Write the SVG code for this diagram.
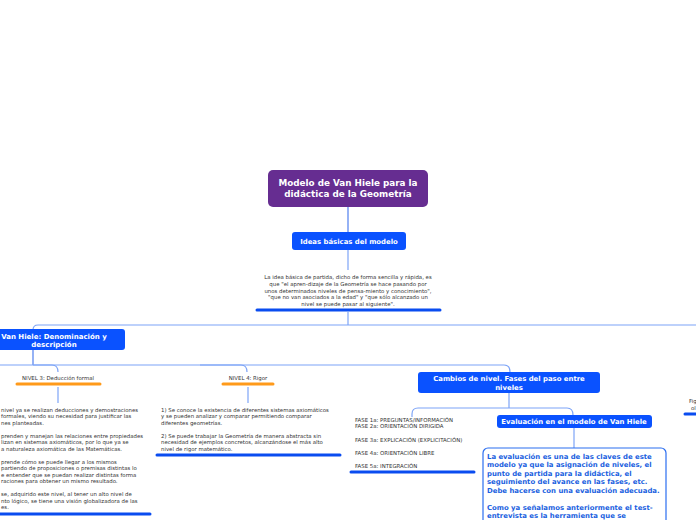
<svg xmlns="http://www.w3.org/2000/svg" width="696" height="520" viewBox="0 0 696 520">
<style>
.c{fill:none;stroke:#7da4f7;stroke-width:1.2}
.cd{fill:none;stroke:#4f7fef;stroke-width:1.2}
.nb{fill:#0a52ff}
.nt{font-family:"DejaVu Sans",Verdana,sans-serif;font-weight:bold;fill:#fff;text-anchor:middle}
.t{font-family:"DejaVu Sans",Verdana,sans-serif;font-size:5.4px;fill:#333}
.tm{text-anchor:middle}
.ub{stroke:#0a4cf0;stroke-width:3;stroke-linecap:round}
.uo{stroke:#ff9a1a;stroke-width:3;stroke-linecap:round}
.bt{font-family:"DejaVu Sans",Verdana,sans-serif;font-weight:bold;font-size:6.9px;fill:#1a5fe0}
</style>
<rect width="696" height="520" fill="#fff"/>
<g id="connectors">
<path class="cd" d="M348,207V232"/>
<path class="c" d="M348,250V270"/>
<path class="c" d="M348,312V325"/>
<path class="c" d="M348,325H38Q33,325 33,330"/>
<path class="c" d="M348,325H696"/>
<path class="cd" d="M33,350V365"/>
<path class="c" d="M0,365H504Q510,365 510,372"/>
<path class="c" d="M33,365H52Q58,365 58,372"/>
<path class="c" d="M200,365H241Q247,365 247,372"/>
<path class="c" d="M58,387V403"/>
<path class="c" d="M248,387V403"/>
<path class="c" d="M509,393V408"/>
<path class="c" d="M509,408H418Q412,408 412,414V417"/>
<path class="c" d="M509,408H567Q573,408 573,415"/>
<path class="c" d="M574,428V448"/>
</g>
<g id="root">
<rect x="268" y="170" width="160" height="37" rx="5" fill="#662d91"/>
<text class="nt" font-size="8.8" x="348" y="186">Modelo de Van Hiele para la</text>
<text class="nt" font-size="8.8" x="348" y="197">didáctica de la Geometría</text>
</g>
<g id="ideas">
<rect class="nb" x="292" y="232" width="114" height="18" rx="3"/>
<text class="nt" font-size="6.9" x="349" y="244">Ideas básicas del modelo</text>
</g>
<g id="ideas-text">
<text class="t tm" x="348" y="279">La idea básica de partida, dicho de forma sencilla y rápida, es</text>
<text class="t tm" x="348" y="286">que "el apren-dizaje de la Geometría se hace pasando por</text>
<text class="t tm" x="348" y="292.5">unos determinados niveles de pensa-miento y conocimiento",</text>
<text class="t tm" x="348" y="299">"que no van asociados a la edad" y "que sólo alcanzado un</text>
<text class="t tm" x="348" y="305.5">nivel se puede pasar al siguiente".</text>
<line class="ub" x1="257" y1="310" x2="440" y2="310"/>
</g>
<g id="vanhiele">
<rect class="nb" x="-20" y="329" width="145" height="21" rx="3"/>
<text class="nt" font-size="7" x="54" y="338.5">Van Hiele: Denominación y</text>
<text class="nt" font-size="7" x="54" y="347">descripción</text>
</g>
<g id="nivel3">
<text class="t tm" x="58" y="380">NIVEL 3: Deducción formal</text>
<line class="uo" x1="17" y1="384" x2="100" y2="384"/>
</g>
<g id="nivel3-text">
<text class="t" x="1" y="411.5">nivel ya se realizan deducciones y demostraciones</text>
<text class="t" x="1" y="418">formales, viendo su necesidad para justificar las</text>
<text class="t" x="1" y="424.5">nes planteadas.</text>
<text class="t" x="1" y="437.5">prenden y manejan las relaciones entre propiedades</text>
<text class="t" x="1" y="444">lizan en sistemas axiomáticos, por lo que ya se</text>
<text class="t" x="1" y="450.5">a naturaleza axiomática de las Matemáticas.</text>
<text class="t" x="1" y="463.5">prende cómo se puede llegar a los mismos</text>
<text class="t" x="1" y="470">partiendo de proposiciones o premisas distintas lo</text>
<text class="t" x="1" y="476.5">e entender que se puedan realizar distintas forma</text>
<text class="t" x="1" y="483">raciones para obtener un mismo resultado.</text>
<text class="t" x="1" y="496">se, adquirido este nivel, al tener un alto nivel de</text>
<text class="t" x="1" y="502.5">nto lógico, se tiene una visión globalizadora de las</text>
<text class="t" x="1" y="509">es.</text>
<line class="ub" x1="0" y1="514" x2="150" y2="514"/>
</g>
<g id="nivel4">
<text class="t tm" x="248" y="380">NIVEL 4: Rigor</text>
<line class="uo" x1="223" y1="384" x2="273" y2="384"/>
</g>
<g id="nivel4-text">
<text class="t" x="161" y="411.5">1) Se conoce la existencia de diferentes sistemas axiomáticos</text>
<text class="t" x="161" y="418">y se pueden analizar y comparar permitiendo comparar</text>
<text class="t" x="161" y="424.5">diferentes geometrías.</text>
<text class="t" x="161" y="437.5">2) Se puede trabajar la Geometría de manera abstracta sin</text>
<text class="t" x="161" y="444">necesidad de ejemplos concretos, alcanzándose el más alto</text>
<text class="t" x="161" y="450.5">nivel de rigor matemático.</text>
<line class="ub" x1="157" y1="455" x2="340" y2="455"/>
</g>
<g id="cambios">
<rect class="nb" x="418" y="372" width="182" height="21" rx="3"/>
<text class="nt" font-size="6.9" x="509" y="381">Cambios de nivel. Fases del paso entre</text>
<text class="nt" font-size="6.9" x="509" y="389.5">niveles</text>
</g>
<g id="fases">
<text class="t" x="355" y="421.5">FASE 1a: PREGUNTAS/INFORMACIÓN</text>
<text class="t" x="355" y="428">FASE 2a: ORIENTACIÓN DIRIGIDA</text>
<text class="t" x="355" y="441.5">FASE 3a: EXPLICACIÓN (EXPLICITACIÓN)</text>
<text class="t" x="355" y="454.5">FASE 4a: ORIENTACIÓN LIBRE</text>
<text class="t" x="355" y="467.5">FASE 5a: INTEGRACIÓN</text>
<line class="ub" x1="351" y1="472" x2="474" y2="472"/>
</g>
<g id="evaluacion">
<rect class="nb" x="497" y="415" width="155" height="13" rx="3"/>
<text class="nt" font-size="6.9" x="574" y="424">Evaluación en el modelo de Van Hiele</text>
</g>
<g id="evaluacion-text">
<rect x="483" y="448" width="183" height="80" rx="5" fill="#fff" stroke="#2b6ef0" stroke-width="1.2"/>
<text class="bt" x="487" y="458.5">La evaluación es una de las claves de este</text>
<text class="bt" x="487" y="467">modelo ya que la asignación de niveles, el</text>
<text class="bt" x="487" y="475.5">punto de partida para la didáctica, el</text>
<text class="bt" x="487" y="484">seguimiento del avance en las fases, etc.</text>
<text class="bt" x="487" y="492.5">Debe hacerse con una evaluación adecuada.</text>
<text class="bt" x="487" y="509.5">Como ya señalamos anteriormente el test-</text>
<text class="bt" x="487" y="518">entrevista es la herramienta que se</text>
</g>
<g id="figura">
<text class="t" x="689" y="403">Fig</text>
<text class="t" x="691" y="409.5">ol</text>
<line class="ub" x1="685" y1="414" x2="698" y2="414"/>
</g>
</svg>
